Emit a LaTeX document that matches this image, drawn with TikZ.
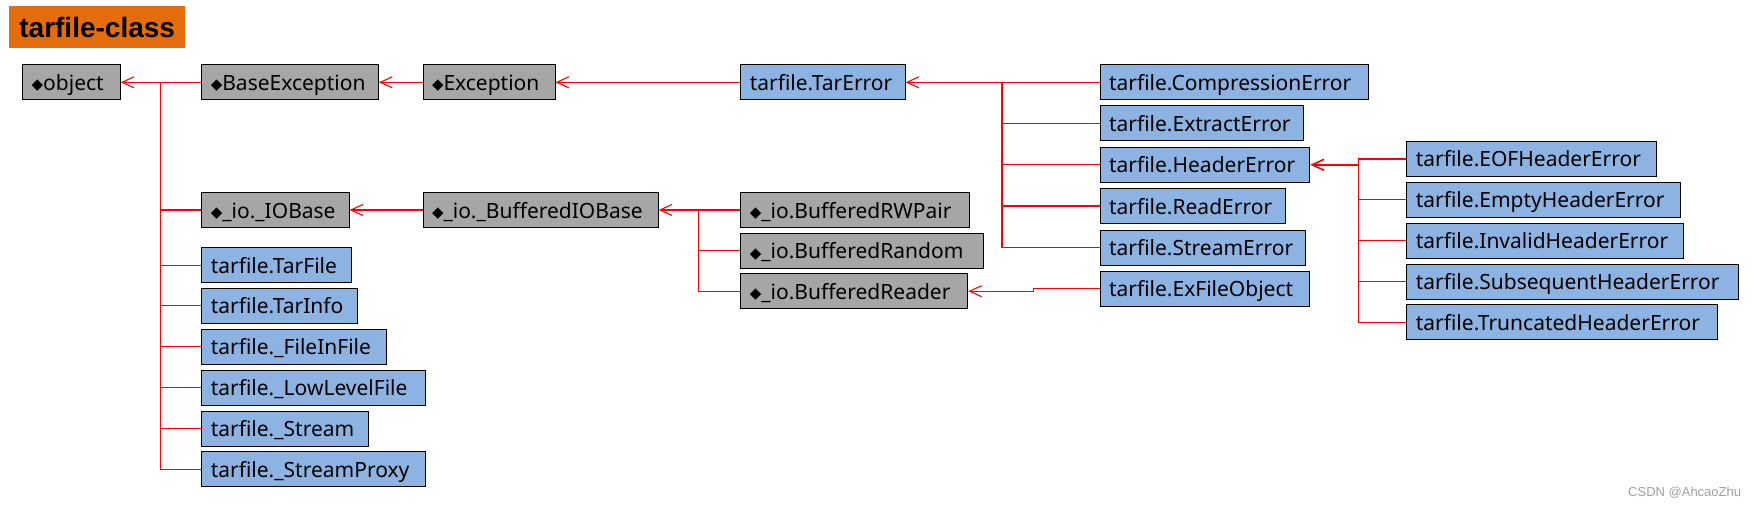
\documentclass[tikz,border=0pt]{standalone}
\usepackage{fontspec}
\setmainfont{Noto Sans}
\newfontfamily\symfont{DejaVu Sans}
\newfontfamily\wmfont{Liberation Sans}
\newfontfamily\ttlfont{Liberation Sans}
\usetikzlibrary{arrows.meta}
\definecolor{clsblue}{HTML}{8DB3E2}
\definecolor{clsgray}{HTML}{A6A6A6}
\definecolor{ttlorange}{HTML}{E46C0A}
\definecolor{lnred}{HTML}{FF0000}
\definecolor{wmgray}{HTML}{A0A0A0}
\newcommand\dia{{\symfont\fontsize{15}{15}\selectfont\raisebox{0.5pt}{◆}}}
\newcommand\cls[6]{%
  \pgfmathsetmacro\clsw{#3-#2-18}%
  \node[clsbox, fill=#5, text width=\clsw pt] (#1) at (#2,#4) {#6};}
\tikzset{
  clsbox/.style={draw=black, line width=1pt, anchor=west, align=left,
    minimum height=35pt, inner xsep=9pt, inner ysep=0pt,
    font=\fontsize{21}{23}\selectfont, text height=16pt, text depth=0pt},
  ln/.style={draw=lnred, line width=1.1pt},
  arr/.style={ln, -{Straight Barb[length=12pt,width=11pt]}},
  ttl/.style={fill=ttlorange, anchor=north west, minimum width=175.6pt,
    minimum height=41.7pt, inner sep=0pt, font=\ttlfont\bfseries\fontsize{28}{30}\selectfont},
}
\begin{document}
\begin{tikzpicture}[x=1pt,y=-1pt]
\useasboundingbox (0,0) rectangle (1756,508);
\node[ttl] (title) at (9.2,6) {tarfile-class};
% row 1
\cls{object}{22.2}{119.8}{82.3}{clsgray}{\dia object}
\cls{baseexc}{201.3}{378}{82.3}{clsgray}{\dia BaseException}
\cls{exc}{422.5}{554.5}{82.3}{clsgray}{\dia Exception}
\cls{tarerror}{740.3}{904.6}{82.3}{clsblue}{tarfile.TarError}
\cls{comperr}{1099.5}{1367.9}{82.3}{clsblue}{tarfile.CompressionError}
\cls{extracterr}{1099.5}{1303.1}{123.5}{clsblue}{tarfile.ExtractError}
\cls{headererr}{1099.5}{1309.2}{164.8}{clsblue}{tarfile.HeaderError}
\cls{readerr}{1099.5}{1285.2}{206}{clsblue}{tarfile.ReadError}
\cls{streamerr}{1099.5}{1305.1}{247.5}{clsblue}{tarfile.StreamError}
\cls{exfile}{1099.5}{1309.2}{288.8}{clsblue}{tarfile.ExFileObject}
% io
\cls{iobase}{201.3}{348.6}{210}{clsgray}{\dia\_io.\_IOBase}
\cls{bufiobase}{422.5}{657.7}{210}{clsgray}{\dia\_io.\_BufferedIOBase}
\cls{rwpair}{740.3}{968.9}{210}{clsgray}{\dia\_io.BufferedRWPair}
\cls{bufrandom}{740.3}{982.7}{250.8}{clsgray}{\dia\_io.BufferedRandom}
\cls{bufreader}{740.3}{967.3}{291.2}{clsgray}{\dia\_io.BufferedReader}
% header errors
\cls{eoferr}{1406.3}{1656.3}{159}{clsblue}{tarfile.EOFHeaderError}
\cls{emptyerr}{1406.3}{1680.3}{199.8}{clsblue}{tarfile.EmptyHeaderError}
\cls{invaliderr}{1406.3}{1683.3}{240.7}{clsblue}{tarfile.InvalidHeaderError}
\cls{subseqerr}{1406.3}{1738.3}{281.5}{clsblue}{tarfile.SubsequentHeaderError}
\cls{truncerr}{1406.3}{1717.3}{322.2}{clsblue}{tarfile.TruncatedHeaderError}
% tarfile classes
\cls{tarfilecls}{201.3}{350.6}{265.3}{clsblue}{tarfile.TarFile}
\cls{tarinfo}{201.3}{356.7}{305.8}{clsblue}{tarfile.TarInfo}
\cls{fileinfile}{201.3}{385.8}{346.8}{clsblue}{tarfile.\_FileInFile}
\cls{lowlevel}{201.3}{424.8}{387.8}{clsblue}{tarfile.\_LowLevelFile}
\cls{stream}{201.3}{367.8}{428.8}{clsblue}{tarfile.\_Stream}
\cls{streamproxy}{201.3}{424.8}{469.3}{clsblue}{tarfile.\_StreamProxy}
% trunk coordinates
\coordinate (t0) at (160.7,82.3);
\coordinate (t1) at (1002,82.3);
\coordinate (t2) at (1358.7,164.8);
\coordinate (t3) at (698.5,210);
\coordinate (xf) at (1033.7,288.8);
% connectors
\draw[arr] (baseexc.west) -- (object.east);
\foreach \c in {iobase,tarfilecls,tarinfo,fileinfile,lowlevel,stream,streamproxy}
  \draw[ln] (\c.west) -| (t0);
\draw[arr] (exc.west) -- (baseexc.east);
\draw[arr] (tarerror.west) -- (exc.east);
\draw[arr] (comperr.west) -- (tarerror.east);
\foreach \c in {extracterr,headererr,readerr,streamerr}
  \draw[ln] (\c.west) -| (t1);
\draw[arr, line width=1.6pt] (t2) -- (headererr.east);
\foreach \c in {eoferr,emptyerr,invaliderr,subseqerr,truncerr}
  \draw[ln] (\c.west) -| (t2);
\draw[arr] (bufiobase.west) -- (iobase.east);
\draw[arr] (rwpair.west) -- (bufiobase.east);
\foreach \c in {bufrandom,bufreader}
  \draw[ln] (\c.west) -| (t3);
\draw[arr] (exfile.west) -- (xf) |- (bufreader.east);
\node[anchor=west, text=wmgray, inner sep=0pt, font=\wmfont\fontsize{13}{13}\selectfont] (wm) at (1628,493) {CSDN @AhcaoZhu};
\end{tikzpicture}
\end{document}
